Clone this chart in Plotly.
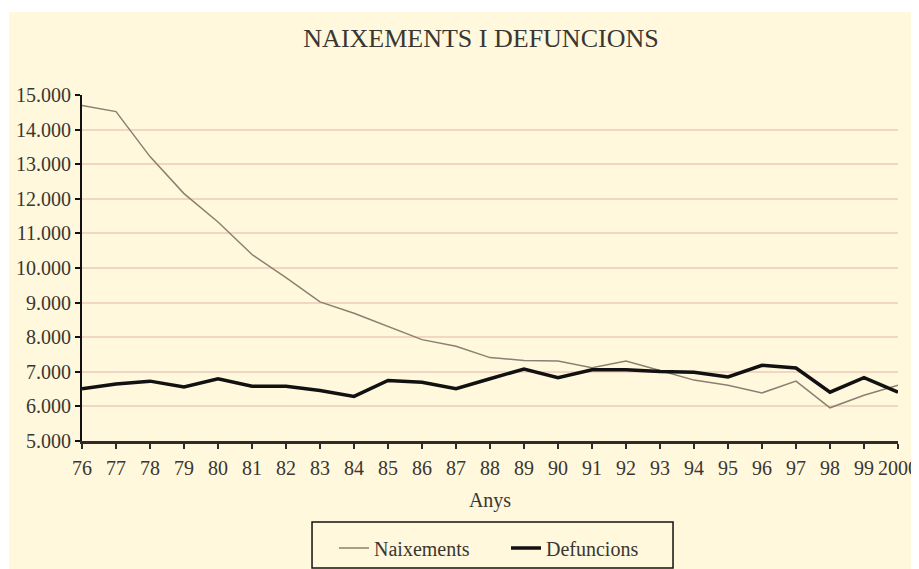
import plotly.graph_objects as go

# data
years = ["76", "77", "78", "79", "80", "81", "82", "83", "84", "85", "86", "87", "88",
         "89", "90", "91", "92", "93", "94", "95", "96", "97", "98", "99", "2000"]
naixements = [14700, 14520, 13220, 12150, 11330, 10390, 9720, 9020, 8690, 8300, 7930,
              7740, 7410, 7330, 7310, 7120, 7310, 7040, 6760, 6610, 6390, 6730, 5960,
              6320, 6610]
defuncions = [6510, 6650, 6730, 6560, 6800, 6580, 6580, 6460, 6290, 6750, 6700, 6510,
              6800, 7080, 6830, 7060, 7060, 7010, 6990, 6850, 7190, 7110, 6410, 6830,
              6410]
y_ticks = [5000, 6000, 7000, 8000, 9000, 10000, 11000, 12000, 13000, 14000, 15000]

FONT = "Liberation Serif"
TXT = "#3a3632"
CREAM = "#FFF8DC"

# the page body adds an 8px margin, so the figure is 8px smaller each way
W, H = 911, 561

fig = go.Figure()
fig.add_trace(go.Scatter(x=years, y=naixements, name="Naixements", mode="lines",
                         line=dict(color="#8c7f72", width=1.5)))
fig.add_trace(go.Scatter(x=years, y=defuncions, name="Defuncions", mode="lines",
                         line=dict(color="#111111", width=3.5)))

fig.update_layout(
    width=W, height=H,
    margin=dict(l=74, r=21, t=87, b=128, autoexpand=False),
    paper_bgcolor=CREAM,
    plot_bgcolor=CREAM,
    separators=",.",
    font=dict(family=FONT, size=20, color=TXT),
    title=dict(text="NAIXEMENTS I DEFUNCIONS", font=dict(family=FONT, size=26, color=TXT),
               x=(481 - 8) / W, xanchor="center", y=1 - (38 - 8) / H, yanchor="middle"),
    showlegend=True,
    legend=dict(orientation="h", xref="container", yref="container",
                x=(334 - 8) / W, xanchor="left", y=1 - (548 - 8) / H, yanchor="middle",
                bgcolor="rgba(0,0,0,0)", borderwidth=0, entrywidth=127,
                font=dict(family=FONT, size=20, color=TXT)),
    xaxis=dict(
        type="category", range=[0, 24], tickmode="linear", tick0=0, dtick=1,
        tickangle=0, showgrid=False, zeroline=False,
        showline=True, linecolor="#2f2b28", linewidth=2.5,
        ticks="outside", ticklen=5, tickwidth=1.5, tickcolor="#2f2b28",
        ticklabelstandoff=2,
        title=dict(text="Anys", standoff=16, font=dict(family=FONT, size=20, color=TXT)),
    ),
    yaxis=dict(
        range=[5000, 15000], tickvals=y_ticks, tickformat=",",
        showgrid=True, gridcolor="#F2D6C2", gridwidth=2, zeroline=False,
        showline=True, linecolor="#111111", linewidth=2,
        ticks="outside", ticklen=5, tickwidth=1.5, tickcolor="#111111",
    ),
)

# white strips round the cream panel
fig.add_shape(type="rect", xref="paper", yref="paper", x0=-0.11, x1=1.05, y0=1.2399, y1=1.3,
              fillcolor="white", line_width=0, layer="below")
fig.add_shape(type="rect", xref="paper", yref="paper", x0=-0.11, x1=-0.0895, y0=-0.4, y1=1.3,
              fillcolor="white", line_width=0, layer="below")
# legend frame
fig.add_shape(type="rect", xref="paper", yref="paper", x0=0.2819, x1=0.7243, y0=-0.3671, y1=-0.2341,
              line=dict(color="#111111", width=1.5), fillcolor="rgba(0,0,0,0)")

fig.write_html("out.html")
